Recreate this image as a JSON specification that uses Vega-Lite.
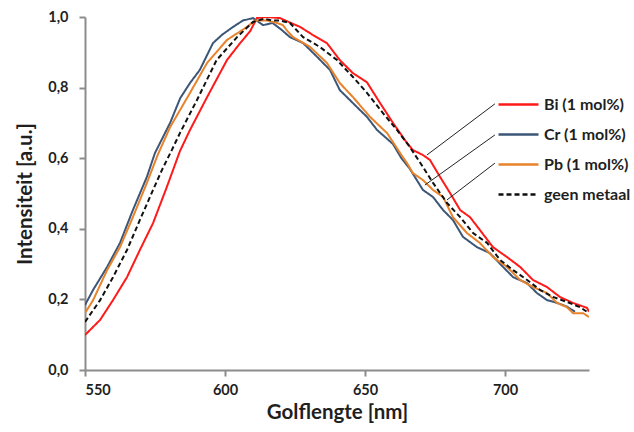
{
  "$schema": "https://vega.github.io/schema/vega-lite/v6.json",
  "width": 504,
  "height": 353,
  "autosize": {"type": "none"},
  "padding": {"left": 85, "top": 17, "right": 45, "bottom": 62},
  "background": "white",
  "config": {
    "view": {"stroke": null},
    "font": "Lato",
    "axis": {
      "grid": false,
      "domainColor": "#8c8c8c",
      "domainWidth": 2,
      "tickColor": "#8c8c8c",
      "tickWidth": 2,
      "tickSize": 6,
      "labelFont": "Lato",
      "labelFontWeight": "bold",
      "labelFontSize": 14.5,
      "labelColor": "#1f1f1f",
      "titleFont": "Lato",
      "titleFontWeight": "bold",
      "titleFontSize": 20.5,
      "titleColor": "#1f1f1f"
    }
  },
  "datasets": {
    "spectra": [
      {"s": "Bi (1 mol%)", "x": 550, "y": 0.099},
      {"s": "Bi (1 mol%)", "x": 555.4, "y": 0.142},
      {"s": "Bi (1 mol%)", "x": 560, "y": 0.198},
      {"s": "Bi (1 mol%)", "x": 565, "y": 0.263},
      {"s": "Bi (1 mol%)", "x": 569.6, "y": 0.34},
      {"s": "Bi (1 mol%)", "x": 574.3, "y": 0.416},
      {"s": "Bi (1 mol%)", "x": 579.3, "y": 0.52},
      {"s": "Bi (1 mol%)", "x": 583.9, "y": 0.62},
      {"s": "Bi (1 mol%)", "x": 587.5, "y": 0.68},
      {"s": "Bi (1 mol%)", "x": 593.6, "y": 0.773},
      {"s": "Bi (1 mol%)", "x": 600.7, "y": 0.878},
      {"s": "Bi (1 mol%)", "x": 605.4, "y": 0.926},
      {"s": "Bi (1 mol%)", "x": 609, "y": 0.96},
      {"s": "Bi (1 mol%)", "x": 611.4, "y": 0.997},
      {"s": "Bi (1 mol%)", "x": 615, "y": 1.0},
      {"s": "Bi (1 mol%)", "x": 619.6, "y": 0.997},
      {"s": "Bi (1 mol%)", "x": 623, "y": 0.985},
      {"s": "Bi (1 mol%)", "x": 626.8, "y": 0.972},
      {"s": "Bi (1 mol%)", "x": 631.4, "y": 0.949},
      {"s": "Bi (1 mol%)", "x": 636.4, "y": 0.926},
      {"s": "Bi (1 mol%)", "x": 641, "y": 0.878},
      {"s": "Bi (1 mol%)", "x": 645.7, "y": 0.841},
      {"s": "Bi (1 mol%)", "x": 650.7, "y": 0.815},
      {"s": "Bi (1 mol%)", "x": 655.4, "y": 0.756},
      {"s": "Bi (1 mol%)", "x": 660, "y": 0.7},
      {"s": "Bi (1 mol%)", "x": 665, "y": 0.643},
      {"s": "Bi (1 mol%)", "x": 667.1, "y": 0.623},
      {"s": "Bi (1 mol%)", "x": 670.7, "y": 0.609},
      {"s": "Bi (1 mol%)", "x": 673.2, "y": 0.595},
      {"s": "Bi (1 mol%)", "x": 676.8, "y": 0.547},
      {"s": "Bi (1 mol%)", "x": 680.4, "y": 0.501},
      {"s": "Bi (1 mol%)", "x": 684, "y": 0.453},
      {"s": "Bi (1 mol%)", "x": 687.5, "y": 0.433},
      {"s": "Bi (1 mol%)", "x": 691, "y": 0.397},
      {"s": "Bi (1 mol%)", "x": 695.7, "y": 0.348},
      {"s": "Bi (1 mol%)", "x": 700.7, "y": 0.32},
      {"s": "Bi (1 mol%)", "x": 705.4, "y": 0.292},
      {"s": "Bi (1 mol%)", "x": 710, "y": 0.255},
      {"s": "Bi (1 mol%)", "x": 715, "y": 0.235},
      {"s": "Bi (1 mol%)", "x": 719.6, "y": 0.207},
      {"s": "Bi (1 mol%)", "x": 724.3, "y": 0.19},
      {"s": "Bi (1 mol%)", "x": 729.3, "y": 0.176},
      {"s": "Bi (1 mol%)", "x": 730, "y": 0.165},

      {"s": "Cr (1 mol%)", "x": 550, "y": 0.184},
      {"s": "Cr (1 mol%)", "x": 552.9, "y": 0.227},
      {"s": "Cr (1 mol%)", "x": 557.9, "y": 0.292},
      {"s": "Cr (1 mol%)", "x": 562.5, "y": 0.36},
      {"s": "Cr (1 mol%)", "x": 567.1, "y": 0.453},
      {"s": "Cr (1 mol%)", "x": 572.1, "y": 0.547},
      {"s": "Cr (1 mol%)", "x": 575, "y": 0.615},
      {"s": "Cr (1 mol%)", "x": 580.4, "y": 0.7},
      {"s": "Cr (1 mol%)", "x": 584, "y": 0.77},
      {"s": "Cr (1 mol%)", "x": 587.5, "y": 0.813},
      {"s": "Cr (1 mol%)", "x": 591, "y": 0.85},
      {"s": "Cr (1 mol%)", "x": 595.7, "y": 0.926},
      {"s": "Cr (1 mol%)", "x": 599, "y": 0.95},
      {"s": "Cr (1 mol%)", "x": 602.9, "y": 0.972},
      {"s": "Cr (1 mol%)", "x": 606.4, "y": 0.99},
      {"s": "Cr (1 mol%)", "x": 610, "y": 0.997},
      {"s": "Cr (1 mol%)", "x": 613.6, "y": 0.977},
      {"s": "Cr (1 mol%)", "x": 617, "y": 0.983},
      {"s": "Cr (1 mol%)", "x": 620, "y": 0.965},
      {"s": "Cr (1 mol%)", "x": 623.2, "y": 0.943},
      {"s": "Cr (1 mol%)", "x": 627.9, "y": 0.926},
      {"s": "Cr (1 mol%)", "x": 632.9, "y": 0.887},
      {"s": "Cr (1 mol%)", "x": 637.5, "y": 0.85},
      {"s": "Cr (1 mol%)", "x": 641, "y": 0.793},
      {"s": "Cr (1 mol%)", "x": 645.7, "y": 0.756},
      {"s": "Cr (1 mol%)", "x": 650.7, "y": 0.717},
      {"s": "Cr (1 mol%)", "x": 654.3, "y": 0.68},
      {"s": "Cr (1 mol%)", "x": 660, "y": 0.64},
      {"s": "Cr (1 mol%)", "x": 663, "y": 0.6},
      {"s": "Cr (1 mol%)", "x": 666, "y": 0.57},
      {"s": "Cr (1 mol%)", "x": 670.7, "y": 0.51},
      {"s": "Cr (1 mol%)", "x": 674.3, "y": 0.49},
      {"s": "Cr (1 mol%)", "x": 677.9, "y": 0.453},
      {"s": "Cr (1 mol%)", "x": 681.4, "y": 0.425},
      {"s": "Cr (1 mol%)", "x": 685, "y": 0.377},
      {"s": "Cr (1 mol%)", "x": 690, "y": 0.348},
      {"s": "Cr (1 mol%)", "x": 694.6, "y": 0.331},
      {"s": "Cr (1 mol%)", "x": 699.3, "y": 0.292},
      {"s": "Cr (1 mol%)", "x": 702.9, "y": 0.263},
      {"s": "Cr (1 mol%)", "x": 707.9, "y": 0.246},
      {"s": "Cr (1 mol%)", "x": 711.4, "y": 0.218},
      {"s": "Cr (1 mol%)", "x": 715, "y": 0.198},
      {"s": "Cr (1 mol%)", "x": 718.6, "y": 0.19},
      {"s": "Cr (1 mol%)", "x": 722, "y": 0.18},
      {"s": "Cr (1 mol%)", "x": 725, "y": 0.165},

      {"s": "Pb (1 mol%)", "x": 550, "y": 0.161},
      {"s": "Pb (1 mol%)", "x": 552.9, "y": 0.198},
      {"s": "Pb (1 mol%)", "x": 557.9, "y": 0.283},
      {"s": "Pb (1 mol%)", "x": 562.5, "y": 0.348},
      {"s": "Pb (1 mol%)", "x": 567.1, "y": 0.433},
      {"s": "Pb (1 mol%)", "x": 572.1, "y": 0.53},
      {"s": "Pb (1 mol%)", "x": 574.3, "y": 0.575},
      {"s": "Pb (1 mol%)", "x": 576, "y": 0.61},
      {"s": "Pb (1 mol%)", "x": 580.4, "y": 0.688},
      {"s": "Pb (1 mol%)", "x": 587.5, "y": 0.785},
      {"s": "Pb (1 mol%)", "x": 593.6, "y": 0.87},
      {"s": "Pb (1 mol%)", "x": 600.7, "y": 0.935},
      {"s": "Pb (1 mol%)", "x": 607.9, "y": 0.972},
      {"s": "Pb (1 mol%)", "x": 610.7, "y": 0.99},
      {"s": "Pb (1 mol%)", "x": 615, "y": 0.99},
      {"s": "Pb (1 mol%)", "x": 618.6, "y": 0.983},
      {"s": "Pb (1 mol%)", "x": 620.7, "y": 0.977},
      {"s": "Pb (1 mol%)", "x": 622, "y": 0.963},
      {"s": "Pb (1 mol%)", "x": 624.3, "y": 0.943},
      {"s": "Pb (1 mol%)", "x": 630.4, "y": 0.915},
      {"s": "Pb (1 mol%)", "x": 636.4, "y": 0.87},
      {"s": "Pb (1 mol%)", "x": 641, "y": 0.813},
      {"s": "Pb (1 mol%)", "x": 645.7, "y": 0.773},
      {"s": "Pb (1 mol%)", "x": 651.8, "y": 0.717},
      {"s": "Pb (1 mol%)", "x": 657.9, "y": 0.671},
      {"s": "Pb (1 mol%)", "x": 662.5, "y": 0.615},
      {"s": "Pb (1 mol%)", "x": 665, "y": 0.586},
      {"s": "Pb (1 mol%)", "x": 667.1, "y": 0.558},
      {"s": "Pb (1 mol%)", "x": 670.7, "y": 0.538},
      {"s": "Pb (1 mol%)", "x": 674.3, "y": 0.51},
      {"s": "Pb (1 mol%)", "x": 677.9, "y": 0.49},
      {"s": "Pb (1 mol%)", "x": 681.4, "y": 0.433},
      {"s": "Pb (1 mol%)", "x": 686.4, "y": 0.388},
      {"s": "Pb (1 mol%)", "x": 691, "y": 0.36},
      {"s": "Pb (1 mol%)", "x": 695.7, "y": 0.32},
      {"s": "Pb (1 mol%)", "x": 700.7, "y": 0.292},
      {"s": "Pb (1 mol%)", "x": 705.4, "y": 0.255},
      {"s": "Pb (1 mol%)", "x": 710, "y": 0.235},
      {"s": "Pb (1 mol%)", "x": 715, "y": 0.218},
      {"s": "Pb (1 mol%)", "x": 718.6, "y": 0.19},
      {"s": "Pb (1 mol%)", "x": 722.1, "y": 0.178},
      {"s": "Pb (1 mol%)", "x": 724.3, "y": 0.161},
      {"s": "Pb (1 mol%)", "x": 727.9, "y": 0.161},
      {"s": "Pb (1 mol%)", "x": 730, "y": 0.15},

      {"s": "geen metaal", "x": 550, "y": 0.136},
      {"s": "geen metaal", "x": 555.4, "y": 0.198},
      {"s": "geen metaal", "x": 560, "y": 0.263},
      {"s": "geen metaal", "x": 565, "y": 0.34},
      {"s": "geen metaal", "x": 569.6, "y": 0.425},
      {"s": "geen metaal", "x": 574.3, "y": 0.51},
      {"s": "geen metaal", "x": 577.5, "y": 0.567},
      {"s": "geen metaal", "x": 581, "y": 0.623},
      {"s": "geen metaal", "x": 583.9, "y": 0.671},
      {"s": "geen metaal", "x": 590, "y": 0.765},
      {"s": "geen metaal", "x": 597, "y": 0.878},
      {"s": "geen metaal", "x": 604.3, "y": 0.943},
      {"s": "geen metaal", "x": 610, "y": 0.986},
      {"s": "geen metaal", "x": 614, "y": 0.995},
      {"s": "geen metaal", "x": 617, "y": 0.99},
      {"s": "geen metaal", "x": 619.6, "y": 0.99},
      {"s": "geen metaal", "x": 623.2, "y": 0.983},
      {"s": "geen metaal", "x": 627.9, "y": 0.943},
      {"s": "geen metaal", "x": 633.9, "y": 0.915},
      {"s": "geen metaal", "x": 640, "y": 0.878},
      {"s": "geen metaal", "x": 645.7, "y": 0.83},
      {"s": "geen metaal", "x": 650.7, "y": 0.785},
      {"s": "geen metaal", "x": 656.4, "y": 0.728},
      {"s": "geen metaal", "x": 661.4, "y": 0.68},
      {"s": "geen metaal", "x": 666, "y": 0.632},
      {"s": "geen metaal", "x": 670.7, "y": 0.575},
      {"s": "geen metaal", "x": 674.3, "y": 0.53},
      {"s": "geen metaal", "x": 679.3, "y": 0.473},
      {"s": "geen metaal", "x": 684, "y": 0.433},
      {"s": "geen metaal", "x": 688.6, "y": 0.388},
      {"s": "geen metaal", "x": 693.6, "y": 0.36},
      {"s": "geen metaal", "x": 698.2, "y": 0.312},
      {"s": "geen metaal", "x": 702.9, "y": 0.283},
      {"s": "geen metaal", "x": 707.9, "y": 0.255},
      {"s": "geen metaal", "x": 712.5, "y": 0.227},
      {"s": "geen metaal", "x": 717.1, "y": 0.207},
      {"s": "geen metaal", "x": 722.1, "y": 0.193},
      {"s": "geen metaal", "x": 726.8, "y": 0.178},
      {"s": "geen metaal", "x": 730, "y": 0.161}
    ],
    "leaders": [
      {"x": 696.4, "y": 0.754, "x2": 672.1, "y2": 0.609},
      {"x": 696.4, "y": 0.666, "x2": 671.4, "y2": 0.524},
      {"x": 696.4, "y": 0.586, "x2": 679.3, "y2": 0.482}
    ]
  },
  "layer": [
    {
      "data": {"name": "spectra"},
      "mark": {"type": "line", "strokeWidth": 2, "clip": true},
      "encoding": {
        "x": {
          "field": "x", "type": "quantitative",
          "scale": {"domain": [550, 730], "nice": false, "zero": false},
          "axis": {"values": [550, 600, 650, 700], "title": "Golflengte [nm]", "labelPadding": 7, "titlePadding": 6}
        },
        "y": {
          "field": "y", "type": "quantitative",
          "scale": {"domain": [0, 1], "nice": false},
          "axis": {"values": [0, 0.2, 0.4, 0.6, 0.8, 1.0], "title": "Intensiteit [a.u.]",
                   "labelExpr": "replace(format(datum.value, '.1f'), '.', ',')", "labelPadding": 11, "titlePadding": 12}
        },
        "color": {
          "field": "s", "type": "nominal",
          "scale": {"domain": ["Bi (1 mol%)", "Cr (1 mol%)", "Pb (1 mol%)", "geen metaal"],
                    "range": ["#ff1a1a", "#3c5678", "#e8832b", "#111111"]},
          "legend": {
            "title": null, "orient": "none", "legendX": 412, "legendY": 66,
            "symbolType": "stroke", "symbolSize": 1600, "symbolStrokeWidth": 2.5,
            "labelFont": "Lato", "labelFontWeight": "bold", "labelFontSize": 16, "labelColor": "#1f1f1f",
            "labelOffset": 4, "rowPadding": -9
          }
        },
        "strokeDash": {
          "field": "s", "type": "nominal",
          "scale": {"domain": ["Bi (1 mol%)", "Cr (1 mol%)", "Pb (1 mol%)", "geen metaal"],
                    "range": [[1, 0], [1, 0], [1, 0], [5, 3]]},
          "legend": {
            "title": null, "orient": "none", "legendX": 412, "legendY": 66,
            "symbolType": "stroke", "symbolSize": 1600, "symbolStrokeWidth": 2.5,
            "labelFont": "Lato", "labelFontWeight": "bold", "labelFontSize": 16, "labelColor": "#1f1f1f",
            "labelOffset": 4, "rowPadding": -9
          }
        }
      }
    },
    {
      "data": {"name": "leaders"},
      "mark": {"type": "rule", "color": "#222222", "strokeWidth": 1},
      "encoding": {
        "x": {"field": "x", "type": "quantitative"},
        "y": {"field": "y", "type": "quantitative"},
        "x2": {"field": "x2"},
        "y2": {"field": "y2"}
      }
    }
  ]
}
